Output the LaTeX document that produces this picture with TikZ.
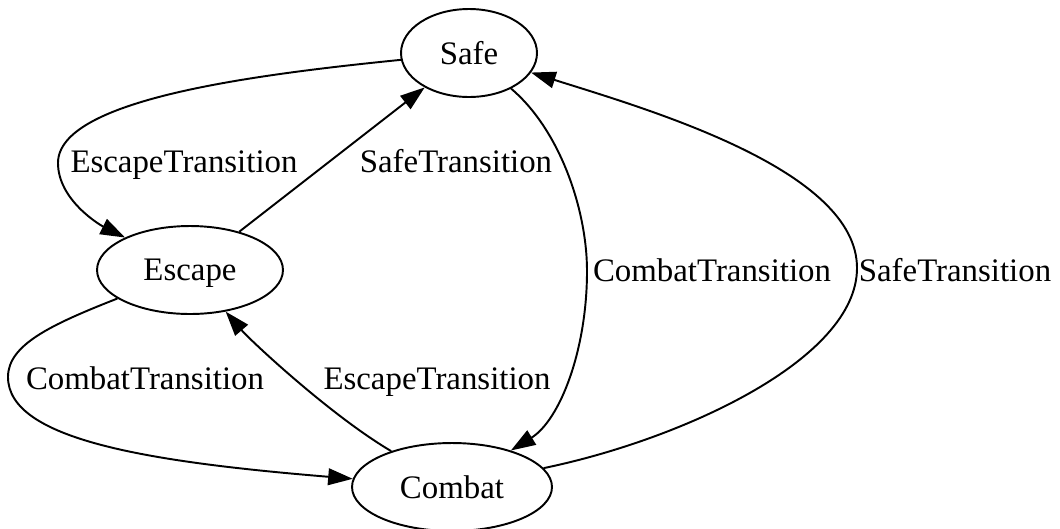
\documentclass[tikz,border=0pt]{standalone}
\usepackage{fontspec}
\setmainfont{Liberation Serif}
\usetikzlibrary{arrows.meta,shapes.geometric}

\begin{document}
\begin{tikzpicture}[x=0.02cm,y=-0.02cm,font=\fontsize{18.7}{22}\selectfont,
    stnode/.style={draw,ellipse,line width=1.1pt,inner sep=0pt,
      text depth=0pt,minimum height=1.76cm},
    edgeline/.style={line width=1.1pt,-{Triangle[length=14pt,width=9.5pt]}},
    edgelbl/.style={anchor=base,inner sep=0pt}]
  \useasboundingbox (0,0) rectangle (1060,528);

  % states
  \node[stnode,minimum width=2.72cm] (safe) at (469,53) {Safe};
  \node[stnode,minimum width=3.72cm] (escape) at (190,270) {Escape};
  \node[stnode,minimum width=4cm] (combat) at (452,487) {Combat};

  % transitions
  \draw[edgeline] (safe) .. controls (250,75) and (58,100) .. (58,163)
    .. controls (58,200) and (100,225) .. (escape);
  \draw[edgeline] (escape) -- (safe);
  \draw[edgeline] (safe) .. controls (560,130) and (587,210) .. (587,271)
    .. controls (587,350) and (560,420) .. (combat);
  \draw[edgeline] (combat) .. controls (680,440) and (857,360) .. (857,268)
    .. controls (857,170) and (650,110) .. (safe);
  \draw[edgeline] (escape) .. controls (50,325) and (8,345) .. (8,377)
    .. controls (8,440) and (150,462) .. (combat);
  \draw[edgeline] (combat) .. controls (330,415) and (250,340) .. (escape);

  % labels
  \node[edgelbl] (lblEscTop) at (184,172) {EscapeTransition};
  \node[edgelbl] (lblSafeTop) at (456,172) {SafeTransition};
  \node[edgelbl] (lblCmbRight) at (712,281) {CombatTransition};
  \node[edgelbl] (lblSafeRight) at (955,281) {SafeTransition};
  \node[edgelbl] (lblCmbLow) at (145,389) {CombatTransition};
  \node[edgelbl] (lblEscLow) at (437,389) {EscapeTransition};
\end{tikzpicture}
\end{document}
